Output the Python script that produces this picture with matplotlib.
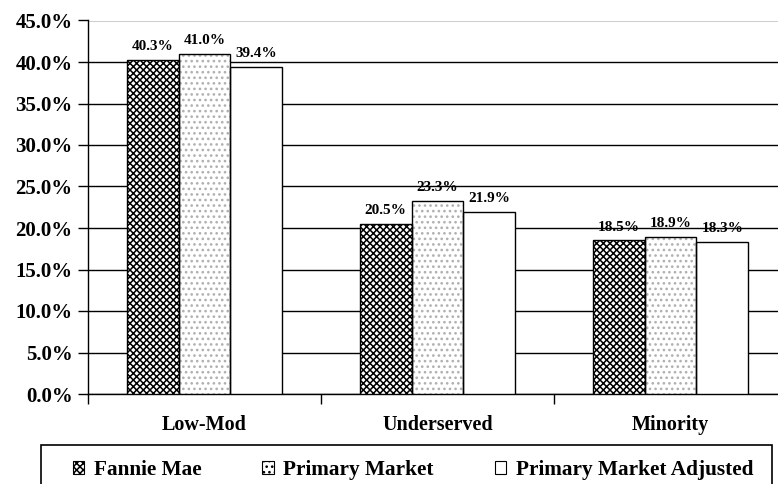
import numpy as np
import matplotlib.pyplot as plt
from matplotlib.patches import Rectangle, Patch
from matplotlib.ticker import MultipleLocator, FuncFormatter

categories = ['Low-Mod', 'Underserved', 'Minority']
series_names = ['Fannie Mae', 'Primary Market', 'Primary Market Adjusted']
fannie_mae = [40.3, 20.5, 18.5]
primary_market = [41.0, 23.3, 18.9]
primary_adjusted = [39.4, 21.9, 18.3]


def main():
    plt.rcParams['font.family'] = ['Liberation Serif', 'DejaVu Serif']
    plt.rcParams['font.weight'] = 'bold'
    plt.rcParams['hatch.linewidth'] = 1.1

    fig = plt.figure(figsize=(7.78, 4.84), dpi=100)
    ax = fig.add_axes([88 / 778, 90 / 484, 699 / 778, 373.5 / 484])

    x = np.arange(len(categories))
    w = 0.223
    series = [fannie_mae, primary_market, primary_adjusted]
    # fill / hatch styles for each series
    styles = [
        dict(facecolor='white', hatch='xxxxx', hcolor='black'),
        dict(facecolor='white', hatch='...', hcolor='#b0b0b0'),
        dict(facecolor='white', hatch=None, hcolor='white'),
    ]

    handles = []
    for i, (vals, st) in enumerate(zip(series, styles)):
        pos = x + (i - 1) * w
        ax.bar(pos, vals, w, color=st['facecolor'], hatch=st['hatch'],
               edgecolor=st['hcolor'], linewidth=0, zorder=3)
        ax.bar(pos, vals, w, fill=False, edgecolor='black', linewidth=1.0, zorder=4)
        for p, v in zip(pos, vals):
            ax.annotate('%.1f%%' % v, (p, v), xytext=(0, 5), textcoords='offset points',
                        ha='center', va='bottom', fontsize=11, fontweight='bold')
        handles.append(Patch(facecolor=st['facecolor'], hatch=st['hatch'],
                             edgecolor='black', linewidth=0.8))

    ax.set_ylim(0, 45)
    ax.set_xlim(-0.5, 2.5)
    ax.yaxis.set_major_locator(MultipleLocator(5))
    ax.yaxis.set_major_formatter(FuncFormatter(lambda v, p: '%.1f%%' % v))
    ax.grid(axis='y', color='black', linewidth=1.0, zorder=0)
    ax.set_axisbelow(True)
    for s in ['top', 'right']:
        ax.spines[s].set_visible(False)
    ax.spines['left'].set_linewidth(1.0)
    ax.spines['bottom'].set_linewidth(1.0)
    ax.tick_params(axis='y', length=7, width=1, direction='out', labelsize=15, pad=4)

    ax.set_xticks(x)
    ax.set_xticklabels(categories, fontsize=14.5, fontweight='bold')
    ax.set_xticks([-0.5, 0.5, 1.5], minor=True)
    ax.tick_params(axis='x', which='major', length=0, pad=15)
    ax.tick_params(axis='x', which='minor', length=7, width=1)

    # legend box
    fig.add_artist(Rectangle((41 / 778, -0.05), 731 / 778, (484 - 445) / 484 + 0.05,
                             transform=fig.transFigure, fill=False,
                             edgecolor='black', linewidth=1.2))
    fig.legend(handles, series_names, loc='center', ncol=3,
               bbox_to_anchor=(413 / 778, (484 - 470) / 484), frameon=False,
               prop={'size': 15.3, 'weight': 'bold'}, handlelength=0.55,
               handleheight=0.55, handletextpad=0.45, columnspacing=2.85)

    fig.savefig('out.png', dpi=100)


if __name__ == '__main__':
    main()
